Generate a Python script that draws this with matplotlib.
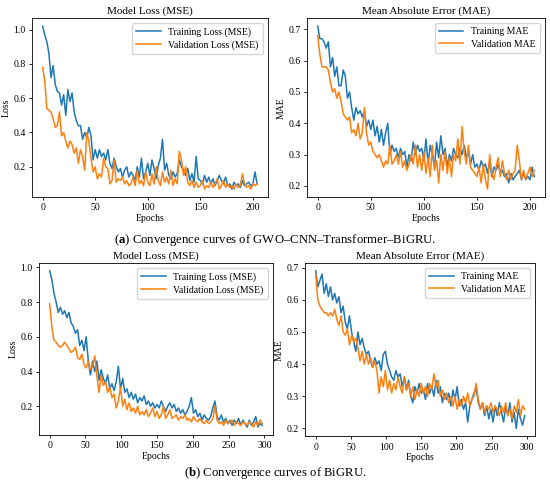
import numpy as np
import matplotlib
matplotlib.use('Agg')
import matplotlib.pyplot as plt

plt.rcParams['font.family'] = 'Liberation Serif'
plt.rcParams['mathtext.fontset'] = 'custom'
plt.rcParams['mathtext.bf'] = 'Liberation Serif:bold'
plt.rcParams['mathtext.rm'] = 'Liberation Serif'

# (a) GWO-CNN-Transformer-BiGRU, values read every 2 epochs
gwo_train_loss = [1.02, 0.97, 0.93, 0.86, 0.72, 0.79, 0.68, 0.64, 0.63, 0.56, 0.62, 0.50, 0.65, 0.58, 0.63,
                  0.52, 0.47, 0.44, 0.44, 0.36, 0.40, 0.37, 0.43, 0.38, 0.24, 0.30, 0.25, 0.30, 0.26, 0.28,
                  0.24, 0.30, 0.22, 0.19, 0.25, 0.20, 0.17, 0.19, 0.14, 0.18, 0.20, 0.14, 0.17, 0.15, 0.12,
                  0.20, 0.14, 0.25, 0.13, 0.17, 0.22, 0.15, 0.24, 0.19, 0.13, 0.21, 0.25, 0.36, 0.18, 0.22,
                  0.15, 0.13, 0.17, 0.14, 0.16, 0.24, 0.20, 0.18, 0.15, 0.19, 0.12, 0.16, 0.11, 0.26, 0.13,
                  0.12, 0.10, 0.15, 0.11, 0.14, 0.10, 0.13, 0.09, 0.12, 0.15, 0.12, 0.10, 0.14, 0.09, 0.10,
                  0.07, 0.11, 0.09, 0.10, 0.08, 0.12, 0.09, 0.10, 0.11, 0.09, 0.10, 0.17, 0.10]
gwo_val_loss = [0.78, 0.70, 0.54, 0.53, 0.52, 0.48, 0.43, 0.44, 0.52, 0.38, 0.40, 0.35, 0.31, 0.35, 0.33,
                0.28, 0.31, 0.22, 0.30, 0.26, 0.18, 0.40, 0.35, 0.25, 0.17, 0.20, 0.13, 0.16, 0.14, 0.25,
                0.20, 0.19, 0.10, 0.12, 0.24, 0.11, 0.13, 0.12, 0.14, 0.10, 0.12, 0.09, 0.10, 0.14, 0.09,
                0.18, 0.10, 0.12, 0.09, 0.17, 0.11, 0.09, 0.16, 0.10, 0.20, 0.12, 0.09, 0.17, 0.11, 0.14,
                0.10, 0.18, 0.09, 0.13, 0.10, 0.29, 0.24, 0.15, 0.20, 0.11, 0.09, 0.12, 0.08, 0.11, 0.08,
                0.09, 0.12, 0.07, 0.09, 0.08, 0.11, 0.08, 0.10, 0.13, 0.07, 0.09, 0.12, 0.08, 0.10, 0.08,
                0.09, 0.07, 0.10, 0.08, 0.09, 0.16, 0.10, 0.08, 0.09, 0.07, 0.10, 0.09, 0.10]
gwo_train_mae = [0.71, 0.67, 0.67, 0.66, 0.64, 0.66, 0.58, 0.61, 0.55, 0.58, 0.52, 0.52, 0.57, 0.55, 0.48,
                 0.50, 0.45, 0.41, 0.45, 0.43, 0.44, 0.42, 0.44, 0.39, 0.41, 0.38, 0.41, 0.36, 0.39, 0.34,
                 0.38, 0.33, 0.37, 0.40, 0.30, 0.33, 0.31, 0.32, 0.29, 0.32, 0.30, 0.31, 0.26, 0.30, 0.28,
                 0.34, 0.30, 0.33, 0.31, 0.32, 0.28, 0.35, 0.27, 0.33, 0.30, 0.26, 0.34, 0.29, 0.36, 0.30,
                 0.32, 0.26, 0.30, 0.28, 0.32, 0.30, 0.29, 0.32, 0.30, 0.33, 0.29, 0.31, 0.27, 0.30, 0.26,
                 0.27, 0.25, 0.28, 0.26, 0.27, 0.24, 0.28, 0.23, 0.26, 0.25, 0.27, 0.24, 0.25, 0.23, 0.24,
                 0.21, 0.24, 0.22, 0.23, 0.24, 0.25, 0.22, 0.24, 0.22, 0.23, 0.22, 0.26, 0.23]
gwo_val_mae = [0.68, 0.62, 0.58, 0.58, 0.58, 0.57, 0.53, 0.50, 0.51, 0.48, 0.50, 0.47, 0.43, 0.42, 0.41,
               0.42, 0.37, 0.38, 0.36, 0.40, 0.35, 0.37, 0.45, 0.37, 0.33, 0.34, 0.31, 0.30, 0.29, 0.30,
               0.28, 0.26, 0.28, 0.27, 0.33, 0.27, 0.28, 0.30, 0.27, 0.31, 0.26, 0.28, 0.25, 0.27, 0.30,
               0.27, 0.33, 0.26, 0.30, 0.25, 0.31, 0.24, 0.29, 0.23, 0.33, 0.25, 0.28, 0.21, 0.30, 0.25,
               0.31, 0.24, 0.29, 0.23, 0.30, 0.28, 0.35, 0.27, 0.39, 0.31, 0.27, 0.33, 0.26, 0.25, 0.24,
               0.23, 0.26, 0.21, 0.27, 0.22, 0.19, 0.30, 0.24, 0.22, 0.26, 0.29, 0.23, 0.28, 0.24, 0.22,
               0.25, 0.22, 0.24, 0.25, 0.33, 0.28, 0.22, 0.25, 0.22, 0.24, 0.26, 0.23, 0.25]

# (b) BiGRU, values read every 3 epochs
gru_train_loss = [0.98, 0.93, 0.85, 0.80, 0.74, 0.77, 0.73, 0.75, 0.71, 0.74, 0.68, 0.66, 0.62, 0.64, 0.55,
                  0.58, 0.52, 0.60, 0.46, 0.38, 0.46, 0.40, 0.46, 0.35, 0.41, 0.36, 0.33, 0.38, 0.30, 0.33,
                  0.29, 0.34, 0.43, 0.30, 0.36, 0.28, 0.30, 0.25, 0.28, 0.24, 0.27, 0.22, 0.25, 0.23, 0.26,
                  0.21, 0.23, 0.20, 0.22, 0.19, 0.21, 0.19, 0.23, 0.20, 0.17, 0.20, 0.22, 0.19, 0.21, 0.17,
                  0.19, 0.16, 0.18, 0.15, 0.17, 0.20, 0.25, 0.16, 0.18, 0.14, 0.16, 0.12, 0.15, 0.13, 0.12,
                  0.14, 0.19, 0.23, 0.14, 0.12, 0.15, 0.11, 0.13, 0.10, 0.12, 0.09, 0.12, 0.10, 0.13, 0.09,
                  0.12, 0.10, 0.08, 0.12, 0.09, 0.11, 0.14, 0.08, 0.10, 0.09]
gru_val_loss = [0.79, 0.66, 0.58, 0.57, 0.55, 0.54, 0.55, 0.57, 0.55, 0.53, 0.51, 0.52, 0.54, 0.48, 0.47,
                0.50, 0.44, 0.42, 0.46, 0.41, 0.43, 0.49, 0.37, 0.28, 0.38, 0.32, 0.34, 0.28, 0.31, 0.25,
                0.27, 0.19, 0.23, 0.31, 0.20, 0.24, 0.18, 0.22, 0.17, 0.19, 0.16, 0.20, 0.15, 0.17, 0.15,
                0.18, 0.14, 0.16, 0.19, 0.14, 0.17, 0.13, 0.15, 0.20, 0.13, 0.15, 0.18, 0.13, 0.14, 0.15,
                0.12, 0.14, 0.13, 0.15, 0.12, 0.13, 0.11, 0.14, 0.12, 0.11, 0.13, 0.11, 0.10, 0.12, 0.10,
                0.11, 0.13, 0.20, 0.12, 0.10, 0.11, 0.09, 0.12, 0.10, 0.11, 0.12, 0.09, 0.11, 0.10, 0.09,
                0.11, 0.10, 0.09, 0.11, 0.10, 0.08, 0.11, 0.09, 0.12, 0.10]
gru_train_mae = [0.69, 0.64, 0.66, 0.68, 0.62, 0.65, 0.61, 0.64, 0.60, 0.62, 0.59, 0.61, 0.56, 0.58, 0.53,
                 0.51, 0.55, 0.50, 0.47, 0.44, 0.50, 0.46, 0.48, 0.45, 0.43, 0.44, 0.41, 0.39, 0.42, 0.40,
                 0.41, 0.38, 0.43, 0.44, 0.40, 0.38, 0.36, 0.35, 0.38, 0.36, 0.37, 0.33, 0.36, 0.32, 0.35,
                 0.30, 0.28, 0.33, 0.31, 0.34, 0.31, 0.32, 0.29, 0.34, 0.31, 0.33, 0.30, 0.35, 0.31, 0.33,
                 0.28, 0.31, 0.29, 0.31, 0.27, 0.32, 0.29, 0.33, 0.27, 0.29, 0.26, 0.28, 0.22, 0.27, 0.29,
                 0.31, 0.33, 0.28, 0.26, 0.28, 0.24, 0.27, 0.23, 0.26, 0.22, 0.27, 0.24, 0.28, 0.25, 0.22,
                 0.27, 0.24, 0.28, 0.22, 0.25, 0.20, 0.26, 0.23, 0.21, 0.24]
gru_val_mae = [0.68, 0.60, 0.58, 0.57, 0.56, 0.56, 0.55, 0.56, 0.55, 0.57, 0.54, 0.52, 0.55, 0.50, 0.49,
               0.51, 0.46, 0.49, 0.47, 0.48, 0.45, 0.41, 0.44, 0.40, 0.43, 0.40, 0.42, 0.39, 0.41, 0.38,
               0.31, 0.36, 0.33, 0.38, 0.32, 0.35, 0.31, 0.34, 0.32, 0.36, 0.33, 0.31, 0.36, 0.32, 0.34,
               0.30, 0.33, 0.29, 0.32, 0.30, 0.34, 0.31, 0.33, 0.30, 0.34, 0.32, 0.37, 0.33, 0.35, 0.30,
               0.32, 0.29, 0.31, 0.28, 0.30, 0.27, 0.30, 0.26, 0.29, 0.27, 0.30, 0.28, 0.31, 0.27, 0.29,
               0.30, 0.34, 0.29, 0.26, 0.28, 0.25, 0.27, 0.26, 0.28, 0.25, 0.27, 0.26, 0.24, 0.27, 0.25,
               0.28, 0.24, 0.26, 0.23, 0.27, 0.25, 0.29, 0.24, 0.27, 0.26]

blue = '#1f77b4'
orange = '#ff7f0e'

fig = plt.figure(figsize=(5.5, 4.87), dpi=100)

# axes boxes (left, bottom, width, height)
boxes = [
    [0.058, 0.595, 0.429, 0.368],
    [0.558, 0.595, 0.433, 0.368],
    [0.071, 0.107, 0.425, 0.353],
    [0.555, 0.104, 0.418, 0.356],
]

panels = [
    (gwo_train_loss, gwo_val_loss, 2, 'Model Loss (MSE)', 'Loss',
     'Training Loss (MSE)', 'Validation Loss (MSE)', [0.2, 0.4, 0.6, 0.8, 1.0]),
    (gwo_train_mae, gwo_val_mae, 2, 'Mean Absolute Error (MAE)', 'MAE',
     'Training MAE', 'Validation MAE', [0.2, 0.3, 0.4, 0.5, 0.6, 0.7]),
    (gru_train_loss, gru_val_loss, 3, 'Model Loss (MSE)', 'Loss',
     'Training Loss (MSE)', 'Validation Loss (MSE)', [0.2, 0.4, 0.6, 0.8, 1.0]),
    (gru_train_mae, gru_val_mae, 3, 'Mean Absolute Error (MAE)', 'MAE',
     'Training MAE', 'Validation MAE', [0.2, 0.3, 0.4, 0.5, 0.6, 0.7]),
]

for box, (tr, va, step, title, ylab, l1, l2, yt) in zip(boxes, panels):
    ax = fig.add_axes(box)
    ax.plot(np.arange(len(tr)) * step, tr, color=blue, lw=1.1, label=l1)
    ax.plot(np.arange(len(va)) * step, va, color=orange, lw=1.1, label=l2)
    ax.set_title(title, fontsize=8, pad=3)
    ax.set_xlabel('Epochs', fontsize=7, labelpad=1)
    ax.set_ylabel(ylab, fontsize=7, labelpad=2)
    ax.set_yticks(yt)
    ax.set_yticklabels(['%.1f' % v for v in yt])
    ax.tick_params(labelsize=7, length=2.5, width=0.6, pad=2)
    for s in ax.spines.values():
        s.set_linewidth(0.6)
    ax.legend(loc='upper right', fontsize=7, handlelength=2.5, borderpad=0.45, labelspacing=0.35)

fig.text(0.5, 0.507, '($\\mathbf{a}$) Convergence curves of GWO\u2013CNN\u2013Transformer\u2013BiGRU.',
         fontsize=9.2, ha='center', va='center')
fig.text(0.5, 0.029, '($\\mathbf{b}$) Convergence curves of BiGRU.',
         fontsize=9.2, ha='center', va='center')

fig.savefig('out.png', dpi=100)
